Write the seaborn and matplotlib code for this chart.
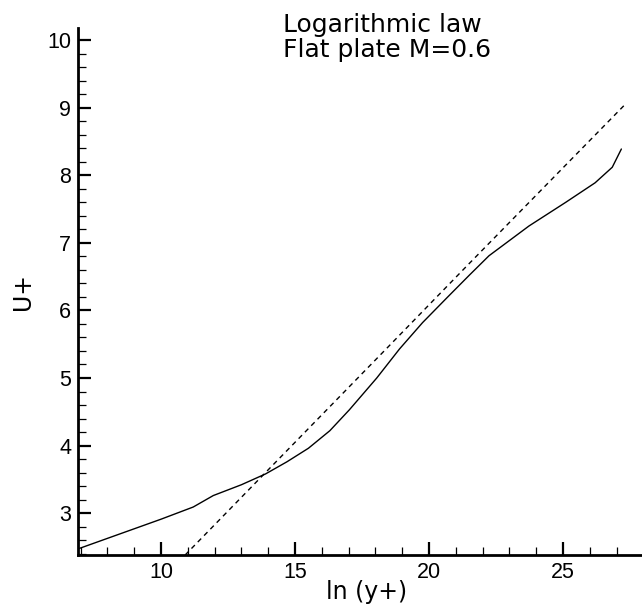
import matplotlib
matplotlib.use("Agg")
import matplotlib.pyplot as plt
from matplotlib.ticker import MultipleLocator
import seaborn as sns
import pandas as pd

# Computed velocity profile (solid)
lny_profile = [6.9, 10.0, 11.2, 11.95, 13.0, 13.9, 14.7, 15.5, 16.3, 17.03, 18.05,
               18.9, 19.76, 20.7, 21.5, 22.24, 23.73, 25.1, 26.2, 26.84, 27.18]
u_profile = [2.47, 2.91, 3.09, 3.26, 3.42, 3.58, 3.76, 3.96, 4.22, 4.53, 5.00,
             5.43, 5.82, 6.20, 6.52, 6.81, 7.25, 7.60, 7.89, 8.12, 8.39]

# Logarithmic law (dashed)
lny_law = [10.9, 13.8, 18.4, 21.44, 27.27]
u_law = [2.38, 3.56, 5.43, 6.67, 9.03]

title_lines = ["Logarithmic law", "Flat plate M=0.6"]
x_label = "ln (y+)"
y_label = "U+"

sns.set_style("ticks")
plt.rcParams["font.family"] = ["Liberation Sans", "DejaVu Sans"]
plt.rcParams["text.color"] = "black"
plt.rcParams["axes.labelcolor"] = "black"
plt.rcParams["xtick.color"] = "black"
plt.rcParams["ytick.color"] = "black"

fig = plt.figure(figsize=(6.42, 6.07), dpi=100)
ax = fig.add_axes([0.1215, 0.0857, 0.8785, 0.868])

df_p = pd.DataFrame({"x": lny_profile, "y": u_profile})
df_l = pd.DataFrame({"x": lny_law, "y": u_law})
sns.lineplot(data=df_p, x="x", y="y", ax=ax, color="black", linewidth=1.0,
             sort=False, estimator=None)
sns.lineplot(data=df_l, x="x", y="y", ax=ax, color="black", linewidth=1.0,
             sort=False, estimator=None)
ax.lines[-1].set_dashes((3.5, 3))

ax.set_xlim(6.9, 27.95)
ax.set_ylim(2.38, 10.18)
ax.xaxis.set_major_locator(MultipleLocator(5))
ax.xaxis.set_minor_locator(MultipleLocator(1))
ax.yaxis.set_major_locator(MultipleLocator(1))
ax.yaxis.set_minor_locator(MultipleLocator(0.2))

for s in ["top", "right"]:
    ax.spines[s].set_visible(False)
for s in ["left", "bottom"]:
    ax.spines[s].set_linewidth(2.0)
    ax.spines[s].set_color("black")

ax.tick_params(which="major", direction="in", length=9.5, width=1.6,
               labelsize=15.5, color="black", labelcolor="black", pad=5)
ax.tick_params(which="minor", direction="in", length=6, width=0.9, color="black")

ax.set_xlabel(x_label, fontsize=17, family=["DejaVu Sans"], color="black")
ax.set_ylabel(y_label, fontsize=17, family=["DejaVu Sans"], color="black")
ax.xaxis.label.set_va("center")
ax.yaxis.label.set_va("center")
ax.xaxis.set_label_coords(0.512, -0.071)
ax.yaxis.set_label_coords(-0.0975, 0.5)

fig.text(0.441, 1 - 32 / 607, title_lines[0], ha="left", va="baseline",
         fontsize=18, family=["DejaVu Sans"], color="black")
fig.text(0.441, 1 - 57 / 607, title_lines[1], ha="left", va="baseline",
         fontsize=18, family=["DejaVu Sans"], color="black")

fig.savefig("out.png", dpi=100)
